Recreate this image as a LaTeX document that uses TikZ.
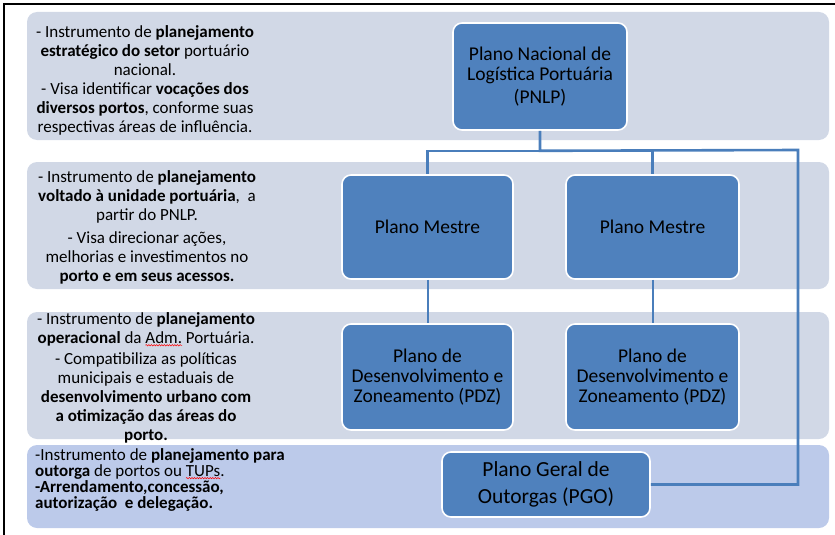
\documentclass[tikz,border=0pt]{standalone}
\usepackage{fontspec}
\setmainfont{Carlito}
\usepackage{tikz}
\usetikzlibrary{positioning, calc, decorations.pathmorphing}
\definecolor{bandgray}{HTML}{D1D8E6}
\definecolor{bandblue}{HTML}{BCCAEA}
\definecolor{planblue}{HTML}{4F81BD}
\definecolor{linkblue}{HTML}{4A7EBB}
\newcommand\redwave[1]{\tikz[baseline=(w.base)]{\node[inner sep=0pt, outer sep=0pt] (w) {#1};
  \draw[overlay, red, line width=0.5pt, decorate, decoration={snake, amplitude=0.7pt, segment length=2.6pt}]
    ([yshift=-1.5pt]w.south west) -- ([yshift=-1.5pt]w.south east);}}
\tikzset{
	bandnode/.style={
			rectangle,
			rounded corners=10pt,
			fill=bandgray,
			draw=none,
			minimum width=802pt,
			inner sep=0pt
		},
	plannode/.style={
			rectangle,
			rounded corners=9pt,
			draw=white,
			line width=1.6pt,
			fill=planblue,
			align=center,
			inner sep=2pt,
			font=\fontsize{19.5}{20}\selectfont
		},
	notenode/.style={
			align=center,
			inner sep=0pt,
			font=\fontsize{17}{19}\selectfont
		},
	link/.style={
			draw=linkblue,
			line width=2.6pt
		},
	thinlink/.style={
			draw=linkblue,
			line width=2pt
		}
}

\begin{document}
\begin{tikzpicture}[x=1pt, y=-1pt]
\useasboundingbox (0,0) rectangle (835,535);

% faixas de fundo
\node[bandnode, minimum height=128pt] (band1) at (428,76) {};
\node[bandnode, minimum height=127pt] (band2) at (428,225.5) {};
\node[bandnode, minimum height=127pt] (band3) at (428,375.5) {};
\node[bandnode, minimum height=83pt, fill=bandblue] (band4) at (428,486.5) {};

% moldura
\draw[black, line width=2pt] (4,535) -- (4,4) -- (835,4);

% textos da esquerda
\node[notenode] (note1) at (145,80) {- Instrumento de \textbf{planejamento}\\
\textbf{estratégico do setor} portuário\\
nacional.\\
- Visa identificar \textbf{vocações dos}\\
\textbf{diversos portos}, conforme suas\\
respectivas áreas de influência.};

\node[notenode] (note2) at (147,227) {- Instrumento de \textbf{planejamento}\\
\textbf{voltado à unidade portuária},~ a\\
partir do PNLP.\\[4pt]
- Visa direcionar ações,\\
melhorias e investimentos no\\
\textbf{porto e em seus acessos.}};

\node[notenode] (note3) at (146,378) {- Instrumento de \textbf{planejamento}\\
\textbf{operacional} da \redwave{Adm.} Portuária.\\[2pt]
- Compatibiliza as políticas\\
municipais e estaduais de\\
\textbf{desenvolvimento urbano com}\\
\textbf{a otimização das áreas do}\\
\textbf{porto.}};

\node[notenode, align=left, anchor=west, font=\fontsize{17}{16}\selectfont] (note4) at (35,480) {-Instrumento de \textbf{planejamento para}\\
\textbf{outorga} de portos ou \redwave{TUPs}.\\
\textbf{-Arrendamento,concessão,}\\
\textbf{autorização~ e delegação.}};

% planos
\node[plannode, minimum width=174pt, minimum height=107pt] (pnlp) at (540,76.5) {Plano Nacional de\\ Logística Portuária\\[3pt] (PNLP)};
\node[plannode, minimum width=171pt, minimum height=104pt] (pm1) at (427.5,227) {Plano Mestre};
\node[plannode, minimum width=173pt, minimum height=104pt] (pm2) at (652.5,227) {Plano Mestre};
\node[plannode, minimum width=171pt, minimum height=106pt] (pdz1) at (427.5,377) {Plano de\\ Desenvolvimento e\\ Zoneamento (PDZ)};
\node[plannode, minimum width=173pt, minimum height=106pt] (pdz2) at (652.5,377) {Plano de\\ Desenvolvimento e\\ Zoneamento (PDZ)};
\node[plannode, minimum width=208pt, minimum height=65pt, font=\fontsize{21.5}{27}\selectfont] (pgo) at (546,484.5) {Plano Geral de\\ Outorgas (PGO)};

\coordinate (rail) at (798,150);

\draw[link] (pnlp.south) -- ++(0,20) -| (pm1.north);
\draw[link] (pnlp.south) -- ++(0,20) -| (pm2.north);
\draw[link] (pnlp.south) -- ++(0,20) -- (rail) |- (pgo.east);

\draw[thinlink] (pm1.south) -- (pdz1.north);
\draw[thinlink] (pm2.south) -- (pdz2.north);
\end{tikzpicture}
\end{document}
